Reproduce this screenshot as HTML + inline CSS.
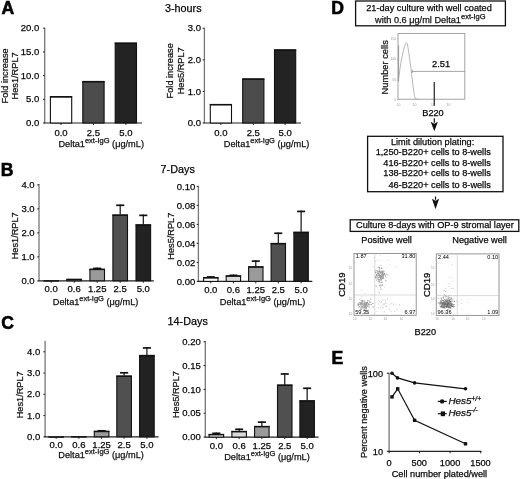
<!DOCTYPE html>
<html><head><meta charset="utf-8"><style>
html,body{margin:0;padding:0;background:#fff;}
body{width:520px;height:479px;overflow:hidden;}
svg{display:block;font-family:"Liberation Sans", sans-serif;filter:grayscale(1);}
.s{stroke:#111;stroke-width:0.25px;}
.b{stroke:#000;stroke-width:0.6px;}
</style></head><body>
<svg width="520" height="479" viewBox="0 0 520 479">
<rect x="0" y="0" width="520" height="479" fill="#fff"/>
<text class="b" x="1.60" y="13.90" font-size="17.6" font-weight="bold" fill="#000">A</text>
<text class="b" x="0.80" y="176.30" font-size="17.6" font-weight="bold" fill="#000">B</text>
<text class="b" x="1.30" y="329.20" font-size="17.6" font-weight="bold" fill="#000">C</text>
<text class="b" x="331.30" y="13.90" font-size="17.6" font-weight="bold" fill="#000">D</text>
<text class="b" x="331.50" y="363.60" font-size="17.6" font-weight="bold" fill="#000">E</text>
<text class="s" x="165.00" y="11.50" font-size="10.8">3-hours</text>
<text class="s" x="160.60" y="172.60" font-size="10.8">7-Days</text>
<text class="s" x="167.60" y="325.00" font-size="10.8">14-Days</text>
<line x1="44.70" y1="27.70" x2="44.70" y2="123.00" stroke="#777" stroke-width="1.3"/>
<line x1="44.10" y1="123.00" x2="142.00" y2="123.00" stroke="#222" stroke-width="1.2"/>
<line x1="43.00" y1="123.00" x2="44.70" y2="123.00" stroke="#222" stroke-width="1.0"/>
<text class="s" x="39.20" y="126.10" font-size="9.5" text-anchor="end">0.0</text>
<line x1="43.00" y1="99.30" x2="44.70" y2="99.30" stroke="#222" stroke-width="1.0"/>
<text class="s" x="39.20" y="102.40" font-size="9.5" text-anchor="end">5.0</text>
<line x1="43.00" y1="75.60" x2="44.70" y2="75.60" stroke="#222" stroke-width="1.0"/>
<text class="s" x="39.20" y="78.70" font-size="9.5" text-anchor="end">10.0</text>
<line x1="43.00" y1="51.90" x2="44.70" y2="51.90" stroke="#222" stroke-width="1.0"/>
<text class="s" x="39.20" y="55.00" font-size="9.5" text-anchor="end">15.0</text>
<line x1="43.00" y1="28.20" x2="44.70" y2="28.20" stroke="#222" stroke-width="1.0"/>
<text class="s" x="39.20" y="31.30" font-size="9.5" text-anchor="end">20.0</text>
<rect x="50.40" y="96.82" width="21.30" height="26.18" fill="#fff" stroke="#111" stroke-width="1.1"/>
<line x1="49.90" y1="96.82" x2="72.20" y2="96.82" stroke="#111" stroke-width="1.5"/>
<line x1="61.05" y1="123.00" x2="61.05" y2="125.00" stroke="#222" stroke-width="1.0"/>
<text class="s" x="61.05" y="136.00" font-size="9.5" text-anchor="middle">0.0</text>
<rect x="82.80" y="81.65" width="21.30" height="41.35" fill="#4c4c4c" stroke="#111" stroke-width="1.1"/>
<line x1="82.30" y1="81.65" x2="104.60" y2="81.65" stroke="#111" stroke-width="1.5"/>
<line x1="93.45" y1="123.00" x2="93.45" y2="125.00" stroke="#222" stroke-width="1.0"/>
<text class="s" x="93.45" y="136.00" font-size="9.5" text-anchor="middle">2.5</text>
<rect x="115.20" y="43.26" width="21.30" height="79.74" fill="#232323" stroke="#111" stroke-width="1.1"/>
<line x1="114.70" y1="43.26" x2="137.00" y2="43.26" stroke="#111" stroke-width="1.5"/>
<line x1="125.85" y1="123.00" x2="125.85" y2="125.00" stroke="#222" stroke-width="1.0"/>
<text class="s" x="125.85" y="136.00" font-size="9.5" text-anchor="middle">5.0</text>
<text class="s" x="58.40" y="147.00" font-size="9.2" fill="#111">Delta1<tspan font-size="7.5" dy="-4.0">ext-IgG</tspan><tspan dy="4.0"> (μg/mL)</tspan></text>
<text class="s" x="0" y="0" font-size="9.2" text-anchor="middle" fill="#111" transform="translate(7.80,75.90) rotate(-90)">Fold increase</text>
<text class="s" x="0" y="0" font-size="9.2" text-anchor="middle" fill="#111" transform="translate(18.40,75.90) rotate(-90)">Hes1/RPL7</text>
<line x1="204.40" y1="27.70" x2="204.40" y2="123.00" stroke="#777" stroke-width="1.3"/>
<line x1="203.80" y1="123.00" x2="301.00" y2="123.00" stroke="#222" stroke-width="1.2"/>
<line x1="202.70" y1="123.00" x2="204.40" y2="123.00" stroke="#222" stroke-width="1.0"/>
<text class="s" x="201.00" y="126.10" font-size="9.5" text-anchor="end">0.0</text>
<line x1="202.70" y1="91.43" x2="204.40" y2="91.43" stroke="#222" stroke-width="1.0"/>
<text class="s" x="201.00" y="94.53" font-size="9.5" text-anchor="end">1.0</text>
<line x1="202.70" y1="59.86" x2="204.40" y2="59.86" stroke="#222" stroke-width="1.0"/>
<text class="s" x="201.00" y="62.96" font-size="9.5" text-anchor="end">2.0</text>
<line x1="202.70" y1="28.29" x2="204.40" y2="28.29" stroke="#222" stroke-width="1.0"/>
<text class="s" x="201.00" y="31.39" font-size="9.5" text-anchor="end">3.0</text>
<rect x="210.30" y="104.66" width="21.20" height="18.34" fill="#fff" stroke="#111" stroke-width="1.1"/>
<line x1="209.80" y1="104.66" x2="232.00" y2="104.66" stroke="#111" stroke-width="1.5"/>
<line x1="220.90" y1="123.00" x2="220.90" y2="125.00" stroke="#222" stroke-width="1.0"/>
<text class="s" x="220.90" y="136.00" font-size="9.5" text-anchor="middle">0.0</text>
<rect x="242.70" y="79.09" width="21.20" height="43.91" fill="#4c4c4c" stroke="#111" stroke-width="1.1"/>
<line x1="242.20" y1="79.09" x2="264.40" y2="79.09" stroke="#111" stroke-width="1.5"/>
<line x1="253.30" y1="123.00" x2="253.30" y2="125.00" stroke="#222" stroke-width="1.0"/>
<text class="s" x="253.30" y="136.00" font-size="9.5" text-anchor="middle">2.5</text>
<rect x="274.50" y="50.04" width="21.20" height="72.96" fill="#232323" stroke="#111" stroke-width="1.1"/>
<line x1="274.00" y1="50.04" x2="296.20" y2="50.04" stroke="#111" stroke-width="1.5"/>
<line x1="285.10" y1="123.00" x2="285.10" y2="125.00" stroke="#222" stroke-width="1.0"/>
<text class="s" x="285.10" y="136.00" font-size="9.5" text-anchor="middle">5.0</text>
<text class="s" x="223.80" y="147.00" font-size="9.2" fill="#111">Delta1<tspan font-size="7.5" dy="-4.0">ext-IgG</tspan><tspan dy="4.0"> (μg/mL)</tspan></text>
<text class="s" x="0" y="0" font-size="9.2" text-anchor="middle" fill="#111" transform="translate(173.10,70.80) rotate(-90)">Fold increase</text>
<text class="s" x="0" y="0" font-size="9.2" text-anchor="middle" fill="#111" transform="translate(183.60,70.80) rotate(-90)">Hes5/RPL7</text>
<line x1="39.00" y1="184.10" x2="39.00" y2="280.80" stroke="#777" stroke-width="1.3"/>
<line x1="38.40" y1="280.80" x2="153.80" y2="280.80" stroke="#222" stroke-width="1.2"/>
<line x1="37.30" y1="280.80" x2="39.00" y2="280.80" stroke="#222" stroke-width="1.0"/>
<text class="s" x="34.60" y="283.90" font-size="9.5" text-anchor="end">0.0</text>
<line x1="37.30" y1="256.80" x2="39.00" y2="256.80" stroke="#222" stroke-width="1.0"/>
<text class="s" x="34.60" y="259.90" font-size="9.5" text-anchor="end">1.0</text>
<line x1="37.30" y1="232.80" x2="39.00" y2="232.80" stroke="#222" stroke-width="1.0"/>
<text class="s" x="34.60" y="235.90" font-size="9.5" text-anchor="end">2.0</text>
<line x1="37.30" y1="208.80" x2="39.00" y2="208.80" stroke="#222" stroke-width="1.0"/>
<text class="s" x="34.60" y="211.90" font-size="9.5" text-anchor="end">3.0</text>
<line x1="37.30" y1="184.80" x2="39.00" y2="184.80" stroke="#222" stroke-width="1.0"/>
<text class="s" x="34.60" y="187.90" font-size="9.5" text-anchor="end">4.0</text>
<rect x="43.90" y="280.92" width="14.60" height="-0.10" fill="#fff" stroke="#111" stroke-width="1.1"/>
<line x1="43.40" y1="280.92" x2="59.00" y2="280.92" stroke="#111" stroke-width="1.5"/>
<line x1="51.20" y1="280.80" x2="51.20" y2="282.80" stroke="#222" stroke-width="1.0"/>
<text class="s" x="51.20" y="292.00" font-size="9.5" text-anchor="middle">0.0</text>
<rect x="66.90" y="279.48" width="14.60" height="1.32" fill="#dadada" stroke="#111" stroke-width="1.1"/>
<line x1="66.40" y1="279.48" x2="82.00" y2="279.48" stroke="#111" stroke-width="1.5"/>
<line x1="74.20" y1="280.80" x2="74.20" y2="282.80" stroke="#222" stroke-width="1.0"/>
<text class="s" x="74.20" y="292.00" font-size="9.5" text-anchor="middle">0.6</text>
<line x1="97.20" y1="267.60" x2="97.20" y2="268.80" stroke="#111" stroke-width="1.2"/>
<line x1="93.14" y1="268.40" x2="101.26" y2="268.40" stroke="#111" stroke-width="1.7"/>
<rect x="89.90" y="269.40" width="14.60" height="11.40" fill="#9a9a9a" stroke="#111" stroke-width="1.1"/>
<line x1="89.40" y1="269.40" x2="105.00" y2="269.40" stroke="#111" stroke-width="1.5"/>
<line x1="97.20" y1="280.80" x2="97.20" y2="282.80" stroke="#222" stroke-width="1.0"/>
<text class="s" x="97.20" y="292.00" font-size="9.5" text-anchor="middle">1.25</text>
<line x1="120.20" y1="204.48" x2="120.20" y2="214.56" stroke="#111" stroke-width="1.2"/>
<line x1="116.14" y1="205.28" x2="124.26" y2="205.28" stroke="#111" stroke-width="1.7"/>
<rect x="112.90" y="215.16" width="14.60" height="65.64" fill="#505050" stroke="#111" stroke-width="1.1"/>
<line x1="112.40" y1="215.16" x2="128.00" y2="215.16" stroke="#111" stroke-width="1.5"/>
<line x1="120.20" y1="280.80" x2="120.20" y2="282.80" stroke="#222" stroke-width="1.0"/>
<text class="s" x="120.20" y="292.00" font-size="9.5" text-anchor="middle">2.5</text>
<line x1="143.30" y1="214.56" x2="143.30" y2="224.40" stroke="#111" stroke-width="1.2"/>
<line x1="139.24" y1="215.36" x2="147.36" y2="215.36" stroke="#111" stroke-width="1.7"/>
<rect x="136.00" y="225.00" width="14.60" height="55.80" fill="#222" stroke="#111" stroke-width="1.1"/>
<line x1="135.50" y1="225.00" x2="151.10" y2="225.00" stroke="#111" stroke-width="1.5"/>
<line x1="143.30" y1="280.80" x2="143.30" y2="282.80" stroke="#222" stroke-width="1.0"/>
<text class="s" x="143.30" y="292.00" font-size="9.5" text-anchor="middle">5.0</text>
<text class="s" x="52.80" y="304.50" font-size="9.2" fill="#111">Delta1<tspan font-size="7.5" dy="-4.0">ext-IgG</tspan><tspan dy="4.0"> (μg/mL)</tspan></text>
<text class="s" x="0" y="0" font-size="9.2" text-anchor="middle" fill="#111" transform="translate(17.60,235.80) rotate(-90)">Hes1/RPL7</text>
<line x1="198.40" y1="185.80" x2="198.40" y2="281.40" stroke="#777" stroke-width="1.3"/>
<line x1="197.80" y1="281.40" x2="312.30" y2="281.40" stroke="#222" stroke-width="1.2"/>
<line x1="196.70" y1="281.40" x2="198.40" y2="281.40" stroke="#222" stroke-width="1.0"/>
<text class="s" x="195.30" y="284.50" font-size="9.5" text-anchor="end">0.00</text>
<line x1="196.70" y1="262.40" x2="198.40" y2="262.40" stroke="#222" stroke-width="1.0"/>
<text class="s" x="195.30" y="265.50" font-size="9.5" text-anchor="end">0.02</text>
<line x1="196.70" y1="243.40" x2="198.40" y2="243.40" stroke="#222" stroke-width="1.0"/>
<text class="s" x="195.30" y="246.50" font-size="9.5" text-anchor="end">0.04</text>
<line x1="196.70" y1="224.40" x2="198.40" y2="224.40" stroke="#222" stroke-width="1.0"/>
<text class="s" x="195.30" y="227.50" font-size="9.5" text-anchor="end">0.06</text>
<line x1="196.70" y1="205.40" x2="198.40" y2="205.40" stroke="#222" stroke-width="1.0"/>
<text class="s" x="195.30" y="208.50" font-size="9.5" text-anchor="end">0.08</text>
<line x1="196.70" y1="186.40" x2="198.40" y2="186.40" stroke="#222" stroke-width="1.0"/>
<text class="s" x="195.30" y="189.50" font-size="9.5" text-anchor="end">0.10</text>
<line x1="210.80" y1="276.17" x2="210.80" y2="277.12" stroke="#111" stroke-width="1.2"/>
<line x1="206.80" y1="276.97" x2="214.80" y2="276.97" stroke="#111" stroke-width="1.7"/>
<rect x="203.60" y="277.73" width="14.40" height="3.67" fill="#fff" stroke="#111" stroke-width="1.1"/>
<line x1="203.10" y1="277.73" x2="218.50" y2="277.73" stroke="#111" stroke-width="1.5"/>
<line x1="210.80" y1="281.40" x2="210.80" y2="283.40" stroke="#222" stroke-width="1.0"/>
<text class="s" x="210.80" y="293.00" font-size="9.5" text-anchor="middle">0.0</text>
<line x1="233.40" y1="274.56" x2="233.40" y2="275.41" stroke="#111" stroke-width="1.2"/>
<line x1="229.40" y1="275.36" x2="237.40" y2="275.36" stroke="#111" stroke-width="1.7"/>
<rect x="226.20" y="276.01" width="14.40" height="5.39" fill="#dadada" stroke="#111" stroke-width="1.1"/>
<line x1="225.70" y1="276.01" x2="241.10" y2="276.01" stroke="#111" stroke-width="1.5"/>
<line x1="233.40" y1="281.40" x2="233.40" y2="283.40" stroke="#222" stroke-width="1.0"/>
<text class="s" x="233.40" y="293.00" font-size="9.5" text-anchor="middle">0.6</text>
<line x1="255.80" y1="260.31" x2="255.80" y2="266.39" stroke="#111" stroke-width="1.2"/>
<line x1="251.80" y1="261.11" x2="259.80" y2="261.11" stroke="#111" stroke-width="1.7"/>
<rect x="248.60" y="266.99" width="14.40" height="14.41" fill="#9a9a9a" stroke="#111" stroke-width="1.1"/>
<line x1="248.10" y1="266.99" x2="263.50" y2="266.99" stroke="#111" stroke-width="1.5"/>
<line x1="255.80" y1="281.40" x2="255.80" y2="283.40" stroke="#222" stroke-width="1.0"/>
<text class="s" x="255.80" y="293.00" font-size="9.5" text-anchor="middle">1.25</text>
<line x1="278.30" y1="232.47" x2="278.30" y2="243.02" stroke="#111" stroke-width="1.2"/>
<line x1="274.30" y1="233.27" x2="282.30" y2="233.27" stroke="#111" stroke-width="1.7"/>
<rect x="271.10" y="243.62" width="14.40" height="37.78" fill="#505050" stroke="#111" stroke-width="1.1"/>
<line x1="270.60" y1="243.62" x2="286.00" y2="243.62" stroke="#111" stroke-width="1.5"/>
<line x1="278.30" y1="281.40" x2="278.30" y2="283.40" stroke="#222" stroke-width="1.0"/>
<text class="s" x="278.30" y="293.00" font-size="9.5" text-anchor="middle">2.5</text>
<line x1="301.10" y1="210.62" x2="301.10" y2="231.81" stroke="#111" stroke-width="1.2"/>
<line x1="297.10" y1="211.43" x2="305.10" y2="211.43" stroke="#111" stroke-width="1.7"/>
<rect x="293.90" y="232.41" width="14.40" height="48.99" fill="#222" stroke="#111" stroke-width="1.1"/>
<line x1="293.40" y1="232.41" x2="308.80" y2="232.41" stroke="#111" stroke-width="1.5"/>
<line x1="301.10" y1="281.40" x2="301.10" y2="283.40" stroke="#222" stroke-width="1.0"/>
<text class="s" x="301.10" y="293.00" font-size="9.5" text-anchor="middle">5.0</text>
<text class="s" x="219.80" y="304.60" font-size="9.2" fill="#111">Delta1<tspan font-size="7.5" dy="-4.0">ext-IgG</tspan><tspan dy="4.0"> (μg/mL)</tspan></text>
<text class="s" x="0" y="0" font-size="9.2" text-anchor="middle" fill="#111" transform="translate(174.00,236.20) rotate(-90)">Hes5/RPL7</text>
<line x1="45.10" y1="340.70" x2="45.10" y2="436.80" stroke="#777" stroke-width="1.3"/>
<line x1="44.50" y1="436.80" x2="158.60" y2="436.80" stroke="#222" stroke-width="1.2"/>
<line x1="43.40" y1="436.80" x2="45.10" y2="436.80" stroke="#222" stroke-width="1.0"/>
<text class="s" x="40.20" y="439.90" font-size="9.5" text-anchor="end">0.0</text>
<line x1="43.40" y1="415.55" x2="45.10" y2="415.55" stroke="#222" stroke-width="1.0"/>
<text class="s" x="40.20" y="418.65" font-size="9.5" text-anchor="end">1.0</text>
<line x1="43.40" y1="394.30" x2="45.10" y2="394.30" stroke="#222" stroke-width="1.0"/>
<text class="s" x="40.20" y="397.40" font-size="9.5" text-anchor="end">2.0</text>
<line x1="43.40" y1="373.05" x2="45.10" y2="373.05" stroke="#222" stroke-width="1.0"/>
<text class="s" x="40.20" y="376.15" font-size="9.5" text-anchor="end">3.0</text>
<line x1="43.40" y1="351.80" x2="45.10" y2="351.80" stroke="#222" stroke-width="1.0"/>
<text class="s" x="40.20" y="354.90" font-size="9.5" text-anchor="end">4.0</text>
<rect x="48.90" y="437.08" width="14.60" height="-0.10" fill="#fff" stroke="#111" stroke-width="1.1"/>
<line x1="48.40" y1="437.08" x2="64.00" y2="437.08" stroke="#111" stroke-width="1.5"/>
<line x1="56.20" y1="436.80" x2="56.20" y2="438.80" stroke="#222" stroke-width="1.0"/>
<text class="s" x="56.20" y="448.00" font-size="9.5" text-anchor="middle">0.0</text>
<rect x="71.60" y="436.87" width="14.60" height="-0.07" fill="#dadada" stroke="#111" stroke-width="1.1"/>
<line x1="71.10" y1="436.87" x2="86.70" y2="436.87" stroke="#111" stroke-width="1.5"/>
<line x1="78.90" y1="436.80" x2="78.90" y2="438.80" stroke="#222" stroke-width="1.0"/>
<text class="s" x="78.90" y="448.00" font-size="9.5" text-anchor="middle">0.6</text>
<line x1="101.60" y1="430.00" x2="101.60" y2="430.85" stroke="#111" stroke-width="1.2"/>
<line x1="97.54" y1="430.80" x2="105.66" y2="430.80" stroke="#111" stroke-width="1.7"/>
<rect x="94.30" y="431.45" width="14.60" height="5.35" fill="#9a9a9a" stroke="#111" stroke-width="1.1"/>
<line x1="93.80" y1="431.45" x2="109.40" y2="431.45" stroke="#111" stroke-width="1.5"/>
<line x1="101.60" y1="436.80" x2="101.60" y2="438.80" stroke="#222" stroke-width="1.0"/>
<text class="s" x="101.60" y="448.00" font-size="9.5" text-anchor="middle">1.25</text>
<line x1="124.10" y1="371.99" x2="124.10" y2="375.60" stroke="#111" stroke-width="1.2"/>
<line x1="120.04" y1="372.79" x2="128.16" y2="372.79" stroke="#111" stroke-width="1.7"/>
<rect x="116.80" y="376.20" width="14.60" height="60.60" fill="#505050" stroke="#111" stroke-width="1.1"/>
<line x1="116.30" y1="376.20" x2="131.90" y2="376.20" stroke="#111" stroke-width="1.5"/>
<line x1="124.10" y1="436.80" x2="124.10" y2="438.80" stroke="#222" stroke-width="1.0"/>
<text class="s" x="124.10" y="448.00" font-size="9.5" text-anchor="middle">2.5</text>
<line x1="146.90" y1="347.12" x2="146.90" y2="354.99" stroke="#111" stroke-width="1.2"/>
<line x1="142.84" y1="347.93" x2="150.96" y2="347.93" stroke="#111" stroke-width="1.7"/>
<rect x="139.60" y="355.59" width="14.60" height="81.21" fill="#222" stroke="#111" stroke-width="1.1"/>
<line x1="139.10" y1="355.59" x2="154.70" y2="355.59" stroke="#111" stroke-width="1.5"/>
<line x1="146.90" y1="436.80" x2="146.90" y2="438.80" stroke="#222" stroke-width="1.0"/>
<text class="s" x="146.90" y="448.00" font-size="9.5" text-anchor="middle">5.0</text>
<text class="s" x="58.30" y="458.30" font-size="9.2" fill="#111">Delta1<tspan font-size="7.5" dy="-4.0">ext-IgG</tspan><tspan dy="4.0"> (μg/mL)</tspan></text>
<text class="s" x="0" y="0" font-size="9.2" text-anchor="middle" fill="#111" transform="translate(23.00,394.80) rotate(-90)">Hes1/RPL7</text>
<line x1="205.30" y1="341.10" x2="205.30" y2="437.10" stroke="#777" stroke-width="1.3"/>
<line x1="204.70" y1="437.10" x2="318.60" y2="437.10" stroke="#222" stroke-width="1.2"/>
<line x1="203.60" y1="437.10" x2="205.30" y2="437.10" stroke="#222" stroke-width="1.0"/>
<text class="s" x="200.80" y="440.20" font-size="9.5" text-anchor="end">0.00</text>
<line x1="203.60" y1="413.25" x2="205.30" y2="413.25" stroke="#222" stroke-width="1.0"/>
<text class="s" x="200.80" y="416.35" font-size="9.5" text-anchor="end">0.05</text>
<line x1="203.60" y1="389.40" x2="205.30" y2="389.40" stroke="#222" stroke-width="1.0"/>
<text class="s" x="200.80" y="392.50" font-size="9.5" text-anchor="end">0.10</text>
<line x1="203.60" y1="365.55" x2="205.30" y2="365.55" stroke="#222" stroke-width="1.0"/>
<text class="s" x="200.80" y="368.65" font-size="9.5" text-anchor="end">0.15</text>
<line x1="203.60" y1="341.70" x2="205.30" y2="341.70" stroke="#222" stroke-width="1.0"/>
<text class="s" x="200.80" y="344.80" font-size="9.5" text-anchor="end">0.20</text>
<line x1="216.35" y1="432.52" x2="216.35" y2="434.00" stroke="#111" stroke-width="1.2"/>
<line x1="212.32" y1="433.32" x2="220.38" y2="433.32" stroke="#111" stroke-width="1.7"/>
<rect x="209.10" y="434.60" width="14.50" height="2.50" fill="#fff" stroke="#111" stroke-width="1.1"/>
<line x1="208.60" y1="434.60" x2="224.10" y2="434.60" stroke="#111" stroke-width="1.5"/>
<line x1="216.35" y1="437.10" x2="216.35" y2="439.10" stroke="#222" stroke-width="1.0"/>
<text class="s" x="216.35" y="449.40" font-size="9.5" text-anchor="middle">0.0</text>
<line x1="239.15" y1="428.51" x2="239.15" y2="430.99" stroke="#111" stroke-width="1.2"/>
<line x1="235.12" y1="429.31" x2="243.18" y2="429.31" stroke="#111" stroke-width="1.7"/>
<rect x="231.90" y="431.59" width="14.50" height="5.51" fill="#dadada" stroke="#111" stroke-width="1.1"/>
<line x1="231.40" y1="431.59" x2="246.90" y2="431.59" stroke="#111" stroke-width="1.5"/>
<line x1="239.15" y1="437.10" x2="239.15" y2="439.10" stroke="#222" stroke-width="1.0"/>
<text class="s" x="239.15" y="449.40" font-size="9.5" text-anchor="middle">0.6</text>
<line x1="261.85" y1="421.36" x2="261.85" y2="425.99" stroke="#111" stroke-width="1.2"/>
<line x1="257.82" y1="422.16" x2="265.88" y2="422.16" stroke="#111" stroke-width="1.7"/>
<rect x="254.60" y="426.59" width="14.50" height="10.51" fill="#9a9a9a" stroke="#111" stroke-width="1.1"/>
<line x1="254.10" y1="426.59" x2="269.60" y2="426.59" stroke="#111" stroke-width="1.5"/>
<line x1="261.85" y1="437.10" x2="261.85" y2="439.10" stroke="#222" stroke-width="1.0"/>
<text class="s" x="261.85" y="449.40" font-size="9.5" text-anchor="middle">1.25</text>
<line x1="284.75" y1="373.18" x2="284.75" y2="384.63" stroke="#111" stroke-width="1.2"/>
<line x1="280.72" y1="373.98" x2="288.78" y2="373.98" stroke="#111" stroke-width="1.7"/>
<rect x="277.50" y="385.23" width="14.50" height="51.87" fill="#505050" stroke="#111" stroke-width="1.1"/>
<line x1="277.00" y1="385.23" x2="292.50" y2="385.23" stroke="#111" stroke-width="1.5"/>
<line x1="284.75" y1="437.10" x2="284.75" y2="439.10" stroke="#222" stroke-width="1.0"/>
<text class="s" x="284.75" y="449.40" font-size="9.5" text-anchor="middle">2.5</text>
<line x1="307.15" y1="387.49" x2="307.15" y2="400.37" stroke="#111" stroke-width="1.2"/>
<line x1="303.12" y1="388.29" x2="311.18" y2="388.29" stroke="#111" stroke-width="1.7"/>
<rect x="299.90" y="400.97" width="14.50" height="36.13" fill="#222" stroke="#111" stroke-width="1.1"/>
<line x1="299.40" y1="400.97" x2="314.90" y2="400.97" stroke="#111" stroke-width="1.5"/>
<line x1="307.15" y1="437.10" x2="307.15" y2="439.10" stroke="#222" stroke-width="1.0"/>
<text class="s" x="307.15" y="449.40" font-size="9.5" text-anchor="middle">5.0</text>
<text class="s" x="224.20" y="460.00" font-size="9.2" fill="#111">Delta1<tspan font-size="7.5" dy="-4.0">ext-IgG</tspan><tspan dy="4.0"> (μg/mL)</tspan></text>
<text class="s" x="0" y="0" font-size="9.2" text-anchor="middle" fill="#111" transform="translate(179.40,394.60) rotate(-90)">Hes5/RPL7</text>
<rect x="355.60" y="1.00" width="149.80" height="24.80" fill="#fff" stroke="#111" stroke-width="1.3"/>
<text class="s" x="429.00" y="10.50" font-size="9.2" text-anchor="middle">21-day culture with well coated</text>
<text class="s" x="375.0" y="22.6" font-size="9.2" fill="#111">with 0.6 μg/ml Delta1<tspan font-size="7.5" dy="-4.0">ext-IgG</tspan></text>
<rect x="398.00" y="33.40" width="66.80" height="65.80" fill="none" stroke="#999" stroke-width="0.9"/>
<text class="s" x="0" y="0" font-size="9.3" text-anchor="middle" fill="#111" transform="translate(387.60,67.30) rotate(-90)">Number cells</text>
<text x="396.00" y="39.70" font-size="3.2" text-anchor="end" fill="#999">150</text>
<line x1="397.00" y1="38.50" x2="398.00" y2="38.50" stroke="#999" stroke-width="0.6"/>
<text x="396.00" y="60.20" font-size="3.2" text-anchor="end" fill="#999">100</text>
<line x1="397.00" y1="59.00" x2="398.00" y2="59.00" stroke="#999" stroke-width="0.6"/>
<text x="396.00" y="81.20" font-size="3.2" text-anchor="end" fill="#999">50</text>
<line x1="397.00" y1="80.00" x2="398.00" y2="80.00" stroke="#999" stroke-width="0.6"/>
<text x="396.00" y="101.00" font-size="3.2" text-anchor="end" fill="#999">0</text>
<line x1="397.00" y1="99.80" x2="398.00" y2="99.80" stroke="#999" stroke-width="0.6"/>
<text x="398.50" y="105.50" font-size="3.4" text-anchor="middle" fill="#999">10</text>
<text x="414.60" y="105.50" font-size="3.4" text-anchor="middle" fill="#999">10</text>
<text x="433.00" y="105.50" font-size="3.4" text-anchor="middle" fill="#999">10</text>
<text x="448.50" y="105.50" font-size="3.4" text-anchor="middle" fill="#999">10</text>
<polyline points="398.5,79 401,62 403.5,50 405.4,44 406.4,42.6 407.4,44 409,54 411,69 413,86 414.5,96 415.5,99.2 419,99.2" fill="none" stroke="#b0b0b0" stroke-width="0.9"/>
<line x1="398.60" y1="45.20" x2="398.60" y2="81.50" stroke="#999" stroke-width="1.0"/>
<line x1="412.00" y1="71.40" x2="464.80" y2="71.40" stroke="#8c8c8c" stroke-width="0.8"/>
<line x1="412.20" y1="69.80" x2="412.20" y2="73.00" stroke="#8c8c8c" stroke-width="0.8"/>
<text class="s" x="432.00" y="66.80" font-size="9.4">2.51</text>
<line x1="434.30" y1="82.00" x2="434.30" y2="105.80" stroke="#333" stroke-width="1.3"/>
<text class="s" x="433.00" y="115.60" font-size="9.2" text-anchor="middle">B220</text>
<line x1="434.30" y1="118.30" x2="434.30" y2="122.80" stroke="#111" stroke-width="1.2"/>
<polygon points="430.70,121.80 434.30,123.80 437.90,121.80 434.30,131.30" fill="#111"/>
<rect x="367.60" y="136.30" width="135.40" height="55.40" fill="none" stroke="#111" stroke-width="1.3"/>
<text class="s" x="432.60" y="144.60" font-size="9.2" text-anchor="middle">Limit dilution plating:</text>
<text class="s" x="490.80" y="155.00" font-size="9.2" text-anchor="end">1,250-B220+ cells to 8-wells</text>
<text class="s" x="490.80" y="165.50" font-size="9.2" text-anchor="end">416-B220+ cells to 8-wells</text>
<text class="s" x="490.80" y="175.80" font-size="9.2" text-anchor="end">138-B220+ cells to 8-wells</text>
<text class="s" x="490.80" y="187.60" font-size="9.2" text-anchor="end">46-B220+ cells to 8-wells</text>
<line x1="435.50" y1="196.50" x2="435.50" y2="199.80" stroke="#111" stroke-width="1.2"/>
<polygon points="431.90,198.80 435.50,200.80 439.10,198.80 435.50,209.20" fill="#111"/>
<rect x="350.20" y="219.80" width="168.60" height="11.60" fill="none" stroke="#111" stroke-width="1.3"/>
<text class="s" x="434.90" y="228.10" font-size="9.2" text-anchor="middle">Culture 8-days with OP-9 stromal layer</text>
<text class="s" x="386.60" y="243.10" font-size="9.2" text-anchor="middle">Positive well</text>
<text class="s" x="479.60" y="242.90" font-size="9.2" text-anchor="middle">Negative well</text>
<rect x="354.00" y="253.50" width="62.20" height="61.80" fill="none" stroke="#8a8a8a" stroke-width="0.9"/>
<line x1="374.80" y1="253.50" x2="374.80" y2="315.30" stroke="#c8c8c8" stroke-width="0.7"/>
<line x1="354.00" y1="295.00" x2="416.20" y2="295.00" stroke="#c8c8c8" stroke-width="0.7"/>
<circle cx="377.1" cy="276.2" r="0.6" fill="#9a9a9a"/>
<circle cx="382.4" cy="273.4" r="0.6" fill="#9a9a9a"/>
<circle cx="376.8" cy="274.8" r="0.6" fill="#9a9a9a"/>
<circle cx="381.1" cy="278.5" r="0.6" fill="#9a9a9a"/>
<circle cx="377.1" cy="270.9" r="0.6" fill="#9a9a9a"/>
<circle cx="381.7" cy="276.5" r="0.6" fill="#9a9a9a"/>
<circle cx="383.7" cy="278.1" r="0.6" fill="#9a9a9a"/>
<circle cx="379.8" cy="274.1" r="0.6" fill="#9a9a9a"/>
<circle cx="386.2" cy="274.1" r="0.6" fill="#9a9a9a"/>
<circle cx="378.1" cy="271.4" r="0.6" fill="#9a9a9a"/>
<circle cx="380.2" cy="275.5" r="0.6" fill="#9a9a9a"/>
<circle cx="379.2" cy="274.8" r="0.6" fill="#9a9a9a"/>
<circle cx="380.7" cy="277.2" r="0.6" fill="#9a9a9a"/>
<circle cx="382.6" cy="275.7" r="0.6" fill="#9a9a9a"/>
<circle cx="375.7" cy="277.2" r="0.6" fill="#9a9a9a"/>
<circle cx="376.6" cy="274.5" r="0.6" fill="#9a9a9a"/>
<circle cx="376.5" cy="275.0" r="0.6" fill="#9a9a9a"/>
<circle cx="378.1" cy="275.7" r="0.6" fill="#9a9a9a"/>
<circle cx="387.9" cy="274.8" r="0.6" fill="#9a9a9a"/>
<circle cx="382.0" cy="270.8" r="0.6" fill="#9a9a9a"/>
<circle cx="379.3" cy="277.1" r="0.6" fill="#9a9a9a"/>
<circle cx="379.8" cy="276.2" r="0.6" fill="#9a9a9a"/>
<circle cx="380.2" cy="271.8" r="0.6" fill="#9a9a9a"/>
<circle cx="381.4" cy="272.4" r="0.6" fill="#9a9a9a"/>
<circle cx="384.5" cy="273.4" r="0.6" fill="#9a9a9a"/>
<circle cx="381.6" cy="275.0" r="0.6" fill="#9a9a9a"/>
<circle cx="382.3" cy="273.1" r="0.6" fill="#9a9a9a"/>
<circle cx="382.4" cy="274.6" r="0.6" fill="#9a9a9a"/>
<circle cx="383.0" cy="277.0" r="0.6" fill="#9a9a9a"/>
<circle cx="380.3" cy="272.5" r="0.6" fill="#9a9a9a"/>
<circle cx="381.8" cy="276.5" r="0.6" fill="#9a9a9a"/>
<circle cx="383.9" cy="273.8" r="0.6" fill="#9a9a9a"/>
<circle cx="381.3" cy="276.6" r="0.6" fill="#9a9a9a"/>
<circle cx="380.7" cy="275.7" r="0.6" fill="#9a9a9a"/>
<circle cx="380.4" cy="273.1" r="0.6" fill="#9a9a9a"/>
<circle cx="377.6" cy="273.7" r="0.6" fill="#9a9a9a"/>
<circle cx="381.4" cy="279.8" r="0.6" fill="#9a9a9a"/>
<circle cx="382.3" cy="278.4" r="0.6" fill="#9a9a9a"/>
<circle cx="381.9" cy="277.2" r="0.6" fill="#9a9a9a"/>
<circle cx="380.4" cy="277.5" r="0.6" fill="#9a9a9a"/>
<circle cx="384.3" cy="274.0" r="0.6" fill="#9a9a9a"/>
<circle cx="378.3" cy="281.3" r="0.6" fill="#9a9a9a"/>
<circle cx="380.6" cy="278.1" r="0.6" fill="#9a9a9a"/>
<circle cx="382.1" cy="271.4" r="0.6" fill="#9a9a9a"/>
<circle cx="385.8" cy="280.7" r="0.6" fill="#9a9a9a"/>
<circle cx="380.4" cy="277.4" r="0.6" fill="#9a9a9a"/>
<circle cx="380.3" cy="272.2" r="0.6" fill="#9a9a9a"/>
<circle cx="379.7" cy="276.2" r="0.6" fill="#9a9a9a"/>
<circle cx="382.7" cy="277.3" r="0.6" fill="#9a9a9a"/>
<circle cx="380.1" cy="279.3" r="0.6" fill="#9a9a9a"/>
<circle cx="378.2" cy="277.5" r="0.6" fill="#9a9a9a"/>
<circle cx="382.7" cy="274.1" r="0.6" fill="#9a9a9a"/>
<circle cx="375.7" cy="272.1" r="0.6" fill="#9a9a9a"/>
<circle cx="380.6" cy="276.7" r="0.6" fill="#9a9a9a"/>
<circle cx="383.7" cy="271.8" r="0.6" fill="#9a9a9a"/>
<circle cx="380.0" cy="277.1" r="0.6" fill="#9a9a9a"/>
<circle cx="379.6" cy="267.4" r="0.6" fill="#9a9a9a"/>
<circle cx="381.9" cy="282.4" r="0.6" fill="#9a9a9a"/>
<circle cx="382.4" cy="272.1" r="0.6" fill="#9a9a9a"/>
<circle cx="379.0" cy="275.7" r="0.6" fill="#9a9a9a"/>
<circle cx="386.0" cy="277.0" r="0.6" fill="#9a9a9a"/>
<circle cx="380.3" cy="280.0" r="0.6" fill="#9a9a9a"/>
<circle cx="379.8" cy="281.0" r="0.6" fill="#9a9a9a"/>
<circle cx="378.4" cy="273.5" r="0.6" fill="#9a9a9a"/>
<circle cx="381.7" cy="279.6" r="0.6" fill="#9a9a9a"/>
<circle cx="381.6" cy="276.0" r="0.6" fill="#9a9a9a"/>
<circle cx="375.6" cy="272.7" r="0.6" fill="#9a9a9a"/>
<circle cx="378.5" cy="273.3" r="0.6" fill="#9a9a9a"/>
<circle cx="381.4" cy="273.9" r="0.6" fill="#9a9a9a"/>
<circle cx="381.9" cy="275.3" r="0.6" fill="#9a9a9a"/>
<circle cx="379.2" cy="275.4" r="0.6" fill="#9a9a9a"/>
<circle cx="381.0" cy="277.7" r="0.6" fill="#9a9a9a"/>
<circle cx="378.9" cy="274.3" r="0.6" fill="#9a9a9a"/>
<circle cx="376.7" cy="280.1" r="0.6" fill="#9a9a9a"/>
<circle cx="383.5" cy="274.4" r="0.6" fill="#9a9a9a"/>
<circle cx="378.9" cy="271.0" r="0.6" fill="#9a9a9a"/>
<circle cx="380.4" cy="275.7" r="0.6" fill="#9a9a9a"/>
<circle cx="385.2" cy="275.8" r="0.6" fill="#9a9a9a"/>
<circle cx="378.1" cy="267.2" r="0.6" fill="#9a9a9a"/>
<circle cx="383.4" cy="275.6" r="0.6" fill="#9a9a9a"/>
<circle cx="376.1" cy="275.6" r="0.6" fill="#9a9a9a"/>
<circle cx="376.1" cy="286.1" r="0.6" fill="#9a9a9a"/>
<circle cx="382.7" cy="276.8" r="0.6" fill="#9a9a9a"/>
<circle cx="379.6" cy="268.2" r="0.6" fill="#9a9a9a"/>
<circle cx="379.7" cy="270.0" r="0.6" fill="#9a9a9a"/>
<circle cx="381.4" cy="268.2" r="0.6" fill="#9a9a9a"/>
<circle cx="377.8" cy="278.9" r="0.6" fill="#9a9a9a"/>
<circle cx="383.9" cy="271.2" r="0.6" fill="#9a9a9a"/>
<circle cx="376.3" cy="277.8" r="0.6" fill="#9a9a9a"/>
<circle cx="382.0" cy="271.8" r="0.6" fill="#9a9a9a"/>
<circle cx="378.3" cy="272.8" r="0.6" fill="#9a9a9a"/>
<circle cx="377.1" cy="272.8" r="0.6" fill="#9a9a9a"/>
<circle cx="383.0" cy="277.2" r="0.6" fill="#9a9a9a"/>
<circle cx="384.9" cy="274.7" r="0.6" fill="#9a9a9a"/>
<circle cx="379.7" cy="271.9" r="0.6" fill="#9a9a9a"/>
<circle cx="379.7" cy="270.8" r="0.6" fill="#9a9a9a"/>
<circle cx="375.7" cy="277.2" r="0.6" fill="#9a9a9a"/>
<circle cx="383.5" cy="277.7" r="0.6" fill="#9a9a9a"/>
<circle cx="383.2" cy="275.8" r="0.6" fill="#9a9a9a"/>
<circle cx="378.3" cy="275.3" r="0.6" fill="#9a9a9a"/>
<circle cx="379.1" cy="271.4" r="0.6" fill="#9a9a9a"/>
<circle cx="375.9" cy="270.3" r="0.6" fill="#9a9a9a"/>
<circle cx="380.0" cy="275.5" r="0.6" fill="#9a9a9a"/>
<circle cx="378.9" cy="279.6" r="0.6" fill="#9a9a9a"/>
<circle cx="380.4" cy="276.9" r="0.6" fill="#9a9a9a"/>
<circle cx="382.9" cy="272.4" r="0.6" fill="#9a9a9a"/>
<circle cx="375.3" cy="277.4" r="0.6" fill="#9a9a9a"/>
<circle cx="378.3" cy="279.2" r="0.6" fill="#9a9a9a"/>
<circle cx="380.8" cy="278.2" r="0.6" fill="#9a9a9a"/>
<circle cx="381.8" cy="268.3" r="0.6" fill="#9a9a9a"/>
<circle cx="381.8" cy="282.0" r="0.5" fill="#aaa"/>
<circle cx="379.1" cy="283.0" r="0.5" fill="#aaa"/>
<circle cx="381.9" cy="289.0" r="0.5" fill="#aaa"/>
<circle cx="382.3" cy="277.5" r="0.5" fill="#aaa"/>
<circle cx="379.4" cy="274.3" r="0.5" fill="#aaa"/>
<circle cx="380.3" cy="287.7" r="0.5" fill="#aaa"/>
<circle cx="379.1" cy="286.1" r="0.5" fill="#aaa"/>
<circle cx="380.9" cy="289.5" r="0.5" fill="#aaa"/>
<circle cx="379.0" cy="281.3" r="0.5" fill="#aaa"/>
<circle cx="379.1" cy="292.9" r="0.5" fill="#aaa"/>
<circle cx="382.5" cy="284.4" r="0.5" fill="#aaa"/>
<circle cx="380.9" cy="285.5" r="0.5" fill="#aaa"/>
<circle cx="380.9" cy="284.1" r="0.5" fill="#aaa"/>
<circle cx="379.9" cy="279.3" r="0.5" fill="#aaa"/>
<circle cx="379.3" cy="292.4" r="0.5" fill="#aaa"/>
<circle cx="381.5" cy="285.3" r="0.5" fill="#aaa"/>
<circle cx="380.1" cy="285.3" r="0.5" fill="#aaa"/>
<circle cx="381.1" cy="282.1" r="0.5" fill="#aaa"/>
<circle cx="380.9" cy="286.1" r="0.5" fill="#aaa"/>
<circle cx="379.2" cy="281.4" r="0.5" fill="#aaa"/>
<circle cx="378.7" cy="280.2" r="0.5" fill="#aaa"/>
<circle cx="382.1" cy="274.4" r="0.5" fill="#aaa"/>
<circle cx="380.0" cy="282.2" r="0.5" fill="#aaa"/>
<circle cx="379.4" cy="285.4" r="0.5" fill="#aaa"/>
<circle cx="382.5" cy="285.3" r="0.5" fill="#aaa"/>
<circle cx="381.3" cy="265.1" r="0.5" fill="#ccc"/>
<circle cx="381.4" cy="277.3" r="0.5" fill="#ccc"/>
<circle cx="380.0" cy="260.8" r="0.5" fill="#ccc"/>
<circle cx="375.7" cy="261.1" r="0.5" fill="#ccc"/>
<circle cx="375.1" cy="278.8" r="0.5" fill="#ccc"/>
<circle cx="383.8" cy="268.1" r="0.5" fill="#ccc"/>
<circle cx="389.3" cy="264.7" r="0.5" fill="#ccc"/>
<circle cx="385.8" cy="276.4" r="0.5" fill="#ccc"/>
<circle cx="374.3" cy="257.5" r="0.5" fill="#ccc"/>
<circle cx="377.4" cy="277.3" r="0.5" fill="#ccc"/>
<circle cx="388.5" cy="260.2" r="0.5" fill="#ccc"/>
<circle cx="387.2" cy="266.9" r="0.5" fill="#ccc"/>
<circle cx="380.0" cy="265.6" r="0.5" fill="#ccc"/>
<circle cx="380.4" cy="255.5" r="0.5" fill="#ccc"/>
<circle cx="377.0" cy="260.1" r="0.5" fill="#ccc"/>
<circle cx="384.5" cy="286.7" r="0.5" fill="#ccc"/>
<circle cx="395.7" cy="267.3" r="0.5" fill="#ccc"/>
<circle cx="373.4" cy="266.7" r="0.5" fill="#ccc"/>
<circle cx="360.9" cy="309.2" r="0.6" fill="#9a9a9a"/>
<circle cx="366.7" cy="303.2" r="0.6" fill="#9a9a9a"/>
<circle cx="368.1" cy="306.0" r="0.6" fill="#9a9a9a"/>
<circle cx="358.3" cy="303.6" r="0.6" fill="#9a9a9a"/>
<circle cx="363.6" cy="304.8" r="0.6" fill="#9a9a9a"/>
<circle cx="365.0" cy="304.1" r="0.6" fill="#9a9a9a"/>
<circle cx="365.2" cy="303.5" r="0.6" fill="#9a9a9a"/>
<circle cx="361.1" cy="308.1" r="0.6" fill="#9a9a9a"/>
<circle cx="365.9" cy="305.8" r="0.6" fill="#9a9a9a"/>
<circle cx="358.4" cy="304.4" r="0.6" fill="#9a9a9a"/>
<circle cx="367.6" cy="302.0" r="0.6" fill="#9a9a9a"/>
<circle cx="368.7" cy="303.9" r="0.6" fill="#9a9a9a"/>
<circle cx="366.0" cy="304.5" r="0.6" fill="#9a9a9a"/>
<circle cx="365.3" cy="307.4" r="0.6" fill="#9a9a9a"/>
<circle cx="363.0" cy="308.2" r="0.6" fill="#9a9a9a"/>
<circle cx="361.5" cy="302.8" r="0.6" fill="#9a9a9a"/>
<circle cx="367.2" cy="302.5" r="0.6" fill="#9a9a9a"/>
<circle cx="363.1" cy="306.8" r="0.6" fill="#9a9a9a"/>
<circle cx="369.1" cy="300.9" r="0.6" fill="#9a9a9a"/>
<circle cx="366.4" cy="308.9" r="0.6" fill="#9a9a9a"/>
<circle cx="369.0" cy="304.3" r="0.6" fill="#9a9a9a"/>
<circle cx="362.2" cy="304.1" r="0.6" fill="#9a9a9a"/>
<circle cx="360.1" cy="304.2" r="0.6" fill="#9a9a9a"/>
<circle cx="363.8" cy="304.5" r="0.6" fill="#9a9a9a"/>
<circle cx="369.0" cy="304.3" r="0.6" fill="#9a9a9a"/>
<circle cx="359.0" cy="307.1" r="0.6" fill="#9a9a9a"/>
<circle cx="360.4" cy="303.8" r="0.6" fill="#9a9a9a"/>
<circle cx="364.0" cy="304.0" r="0.6" fill="#9a9a9a"/>
<circle cx="360.7" cy="304.3" r="0.6" fill="#9a9a9a"/>
<circle cx="372.8" cy="303.5" r="0.6" fill="#9a9a9a"/>
<circle cx="364.0" cy="307.3" r="0.6" fill="#9a9a9a"/>
<circle cx="367.3" cy="306.5" r="0.6" fill="#9a9a9a"/>
<circle cx="367.8" cy="300.5" r="0.6" fill="#9a9a9a"/>
<circle cx="361.2" cy="305.1" r="0.6" fill="#9a9a9a"/>
<circle cx="366.4" cy="307.6" r="0.6" fill="#9a9a9a"/>
<circle cx="366.3" cy="304.3" r="0.6" fill="#9a9a9a"/>
<circle cx="364.6" cy="304.3" r="0.6" fill="#9a9a9a"/>
<circle cx="365.4" cy="306.3" r="0.6" fill="#9a9a9a"/>
<circle cx="363.2" cy="303.0" r="0.6" fill="#9a9a9a"/>
<circle cx="361.3" cy="307.2" r="0.6" fill="#9a9a9a"/>
<circle cx="369.4" cy="307.0" r="0.6" fill="#9a9a9a"/>
<circle cx="367.8" cy="306.6" r="0.6" fill="#9a9a9a"/>
<circle cx="364.5" cy="306.3" r="0.6" fill="#9a9a9a"/>
<circle cx="360.5" cy="304.4" r="0.6" fill="#9a9a9a"/>
<circle cx="361.7" cy="306.4" r="0.6" fill="#9a9a9a"/>
<circle cx="362.3" cy="304.6" r="0.6" fill="#9a9a9a"/>
<circle cx="366.0" cy="307.8" r="0.6" fill="#9a9a9a"/>
<circle cx="361.5" cy="302.7" r="0.6" fill="#9a9a9a"/>
<circle cx="367.6" cy="302.4" r="0.6" fill="#9a9a9a"/>
<circle cx="366.2" cy="303.5" r="0.6" fill="#9a9a9a"/>
<circle cx="364.1" cy="300.8" r="0.6" fill="#9a9a9a"/>
<circle cx="367.2" cy="303.7" r="0.6" fill="#9a9a9a"/>
<circle cx="361.1" cy="309.4" r="0.6" fill="#9a9a9a"/>
<circle cx="367.2" cy="312.5" r="0.6" fill="#9a9a9a"/>
<circle cx="366.0" cy="304.0" r="0.6" fill="#9a9a9a"/>
<circle cx="364.9" cy="308.3" r="0.6" fill="#9a9a9a"/>
<circle cx="364.4" cy="305.8" r="0.6" fill="#9a9a9a"/>
<circle cx="366.5" cy="302.8" r="0.6" fill="#9a9a9a"/>
<circle cx="365.0" cy="303.7" r="0.6" fill="#9a9a9a"/>
<circle cx="359.8" cy="306.7" r="0.6" fill="#9a9a9a"/>
<circle cx="367.0" cy="305.0" r="0.6" fill="#9a9a9a"/>
<circle cx="361.1" cy="300.4" r="0.6" fill="#9a9a9a"/>
<circle cx="366.3" cy="304.6" r="0.6" fill="#9a9a9a"/>
<circle cx="358.1" cy="304.7" r="0.6" fill="#9a9a9a"/>
<circle cx="358.7" cy="304.7" r="0.6" fill="#9a9a9a"/>
<circle cx="365.0" cy="305.6" r="0.6" fill="#9a9a9a"/>
<circle cx="365.3" cy="305.2" r="0.6" fill="#9a9a9a"/>
<circle cx="360.2" cy="304.0" r="0.6" fill="#9a9a9a"/>
<circle cx="362.6" cy="304.3" r="0.6" fill="#9a9a9a"/>
<circle cx="365.5" cy="306.2" r="0.6" fill="#9a9a9a"/>
<circle cx="370.7" cy="299.1" r="0.6" fill="#9a9a9a"/>
<circle cx="366.0" cy="304.4" r="0.6" fill="#9a9a9a"/>
<circle cx="373.1" cy="306.9" r="0.6" fill="#9a9a9a"/>
<circle cx="358.2" cy="305.7" r="0.6" fill="#9a9a9a"/>
<circle cx="362.5" cy="307.0" r="0.6" fill="#9a9a9a"/>
<circle cx="360.5" cy="304.6" r="0.6" fill="#9a9a9a"/>
<circle cx="364.0" cy="304.6" r="0.6" fill="#9a9a9a"/>
<circle cx="362.3" cy="300.8" r="0.6" fill="#9a9a9a"/>
<circle cx="366.2" cy="307.0" r="0.6" fill="#9a9a9a"/>
<circle cx="364.2" cy="302.6" r="0.6" fill="#9a9a9a"/>
<circle cx="365.3" cy="306.0" r="0.6" fill="#9a9a9a"/>
<circle cx="363.8" cy="304.8" r="0.6" fill="#9a9a9a"/>
<circle cx="369.9" cy="302.3" r="0.6" fill="#9a9a9a"/>
<circle cx="362.4" cy="300.6" r="0.6" fill="#9a9a9a"/>
<circle cx="361.8" cy="303.2" r="0.6" fill="#9a9a9a"/>
<circle cx="360.9" cy="303.3" r="0.6" fill="#9a9a9a"/>
<circle cx="371.3" cy="304.4" r="0.6" fill="#9a9a9a"/>
<circle cx="364.1" cy="309.6" r="0.6" fill="#9a9a9a"/>
<circle cx="364.3" cy="301.0" r="0.6" fill="#9a9a9a"/>
<circle cx="366.0" cy="302.7" r="0.6" fill="#9a9a9a"/>
<circle cx="370.7" cy="302.1" r="0.6" fill="#9a9a9a"/>
<circle cx="362.3" cy="301.3" r="0.6" fill="#9a9a9a"/>
<circle cx="364.9" cy="302.6" r="0.6" fill="#9a9a9a"/>
<circle cx="364.3" cy="304.0" r="0.6" fill="#9a9a9a"/>
<circle cx="362.2" cy="306.9" r="0.6" fill="#9a9a9a"/>
<circle cx="368.1" cy="304.9" r="0.6" fill="#9a9a9a"/>
<circle cx="361.1" cy="302.4" r="0.6" fill="#9a9a9a"/>
<circle cx="365.5" cy="310.1" r="0.6" fill="#9a9a9a"/>
<circle cx="362.8" cy="303.1" r="0.6" fill="#9a9a9a"/>
<circle cx="361.8" cy="302.4" r="0.6" fill="#9a9a9a"/>
<circle cx="360.8" cy="304.3" r="0.6" fill="#9a9a9a"/>
<circle cx="369.9" cy="304.8" r="0.6" fill="#9a9a9a"/>
<circle cx="362.6" cy="301.2" r="0.6" fill="#9a9a9a"/>
<circle cx="365.3" cy="304.7" r="0.6" fill="#9a9a9a"/>
<circle cx="359.8" cy="302.4" r="0.6" fill="#9a9a9a"/>
<circle cx="364.3" cy="307.0" r="0.6" fill="#9a9a9a"/>
<circle cx="366.9" cy="305.3" r="0.6" fill="#9a9a9a"/>
<circle cx="363.3" cy="305.5" r="0.6" fill="#9a9a9a"/>
<circle cx="364.5" cy="309.6" r="0.6" fill="#9a9a9a"/>
<circle cx="360.2" cy="304.0" r="0.6" fill="#9a9a9a"/>
<circle cx="393.0" cy="303.8" r="0.5" fill="#c4c4c4"/>
<circle cx="393.8" cy="304.8" r="0.5" fill="#c4c4c4"/>
<circle cx="386.8" cy="303.3" r="0.5" fill="#c4c4c4"/>
<circle cx="378.4" cy="300.6" r="0.5" fill="#c4c4c4"/>
<circle cx="398.2" cy="307.9" r="0.5" fill="#c4c4c4"/>
<circle cx="389.3" cy="309.3" r="0.5" fill="#c4c4c4"/>
<circle cx="389.1" cy="309.6" r="0.5" fill="#c4c4c4"/>
<circle cx="384.5" cy="304.0" r="0.5" fill="#c4c4c4"/>
<circle cx="391.4" cy="303.4" r="0.5" fill="#c4c4c4"/>
<circle cx="378.7" cy="304.0" r="0.5" fill="#c4c4c4"/>
<circle cx="383.0" cy="307.8" r="0.5" fill="#c4c4c4"/>
<circle cx="382.0" cy="300.2" r="0.5" fill="#c4c4c4"/>
<circle cx="384.2" cy="312.0" r="0.5" fill="#c4c4c4"/>
<circle cx="385.7" cy="305.7" r="0.5" fill="#c4c4c4"/>
<circle cx="386.1" cy="306.3" r="0.5" fill="#c4c4c4"/>
<circle cx="391.1" cy="311.3" r="0.5" fill="#c4c4c4"/>
<circle cx="377.0" cy="311.1" r="0.5" fill="#c4c4c4"/>
<circle cx="386.0" cy="303.6" r="0.5" fill="#c4c4c4"/>
<circle cx="399.2" cy="304.2" r="0.5" fill="#c4c4c4"/>
<circle cx="396.7" cy="309.4" r="0.5" fill="#c4c4c4"/>
<circle cx="380.3" cy="307.2" r="0.5" fill="#c4c4c4"/>
<circle cx="390.1" cy="304.4" r="0.5" fill="#c4c4c4"/>
<circle cx="373.2" cy="303.5" r="0.5" fill="#c4c4c4"/>
<circle cx="384.9" cy="300.0" r="0.5" fill="#c4c4c4"/>
<circle cx="396.0" cy="303.9" r="0.5" fill="#c4c4c4"/>
<circle cx="383.8" cy="303.7" r="0.5" fill="#c4c4c4"/>
<circle cx="381.7" cy="301.5" r="0.5" fill="#c4c4c4"/>
<circle cx="386.5" cy="306.4" r="0.5" fill="#c4c4c4"/>
<circle cx="383.2" cy="304.6" r="0.5" fill="#c4c4c4"/>
<circle cx="378.4" cy="307.3" r="0.5" fill="#c4c4c4"/>
<circle cx="381.9" cy="306.0" r="0.5" fill="#c4c4c4"/>
<circle cx="381.0" cy="302.7" r="0.5" fill="#c4c4c4"/>
<circle cx="387.2" cy="299.5" r="0.5" fill="#c4c4c4"/>
<circle cx="399.6" cy="304.8" r="0.5" fill="#c4c4c4"/>
<circle cx="385.6" cy="301.7" r="0.5" fill="#c4c4c4"/>
<circle cx="394.8" cy="311.2" r="0.5" fill="#c4c4c4"/>
<circle cx="387.6" cy="298.8" r="0.5" fill="#c4c4c4"/>
<circle cx="383.2" cy="307.8" r="0.5" fill="#c4c4c4"/>
<circle cx="383.2" cy="299.7" r="0.5" fill="#c4c4c4"/>
<circle cx="379.5" cy="301.5" r="0.5" fill="#c4c4c4"/>
<circle cx="362.1" cy="296.8" r="0.5" fill="#ccc"/>
<circle cx="362.1" cy="314.0" r="0.5" fill="#ccc"/>
<circle cx="372.6" cy="294.8" r="0.5" fill="#ccc"/>
<circle cx="364.1" cy="300.4" r="0.5" fill="#ccc"/>
<circle cx="361.2" cy="305.2" r="0.5" fill="#ccc"/>
<circle cx="360.0" cy="298.4" r="0.5" fill="#ccc"/>
<circle cx="359.8" cy="299.5" r="0.5" fill="#ccc"/>
<circle cx="369.7" cy="303.9" r="0.5" fill="#ccc"/>
<circle cx="357.2" cy="304.1" r="0.5" fill="#ccc"/>
<circle cx="363.3" cy="304.4" r="0.5" fill="#ccc"/>
<circle cx="361.6" cy="290.5" r="0.5" fill="#ccc"/>
<circle cx="364.7" cy="301.1" r="0.5" fill="#ccc"/>
<circle cx="365.0" cy="293.5" r="0.5" fill="#ccc"/>
<text x="355.80" y="258.10" font-size="5.6">1.87</text>
<text x="415.40" y="258.10" font-size="5.6" text-anchor="end">31.80</text>
<text x="355.20" y="314.30" font-size="5.6">59.35</text>
<text x="415.40" y="314.30" font-size="5.6" text-anchor="end">6.97</text>
<text x="354.80" y="319.50" font-size="3.2" text-anchor="middle" fill="#999">10</text>
<text x="370.60" y="319.50" font-size="3.2" text-anchor="middle" fill="#999">10</text>
<text x="385.30" y="319.50" font-size="3.2" text-anchor="middle" fill="#999">10</text>
<text x="401.40" y="319.50" font-size="3.2" text-anchor="middle" fill="#999">10</text>
<text x="350.50" y="268.80" font-size="3.2" text-anchor="middle" fill="#999">10</text>
<text x="350.50" y="285.30" font-size="3.2" text-anchor="middle" fill="#999">10</text>
<text x="350.50" y="299.60" font-size="3.2" text-anchor="middle" fill="#999">10</text>
<text x="350.50" y="314.90" font-size="3.2" text-anchor="middle" fill="#999">10</text>
<text class="s" x="0" y="0" font-size="9.6" text-anchor="middle" fill="#000" transform="translate(345.20,284.60) rotate(-90)">CD19</text>
<rect x="436.30" y="253.90" width="62.70" height="61.50" fill="none" stroke="#8a8a8a" stroke-width="0.9"/>
<line x1="457.30" y1="253.90" x2="457.30" y2="315.40" stroke="#c8c8c8" stroke-width="0.7"/>
<line x1="436.30" y1="295.60" x2="499.00" y2="295.60" stroke="#c8c8c8" stroke-width="0.7"/>
<circle cx="445.9" cy="305.2" r="0.6" fill="#6a6a6a"/>
<circle cx="446.0" cy="303.3" r="0.6" fill="#6a6a6a"/>
<circle cx="444.0" cy="303.5" r="0.6" fill="#6a6a6a"/>
<circle cx="449.7" cy="305.0" r="0.6" fill="#6a6a6a"/>
<circle cx="449.5" cy="304.6" r="0.6" fill="#6a6a6a"/>
<circle cx="447.7" cy="304.4" r="0.6" fill="#6a6a6a"/>
<circle cx="441.9" cy="306.0" r="0.6" fill="#6a6a6a"/>
<circle cx="448.0" cy="305.1" r="0.6" fill="#6a6a6a"/>
<circle cx="441.9" cy="300.0" r="0.6" fill="#6a6a6a"/>
<circle cx="444.1" cy="302.9" r="0.6" fill="#6a6a6a"/>
<circle cx="447.5" cy="303.9" r="0.6" fill="#6a6a6a"/>
<circle cx="448.1" cy="302.5" r="0.6" fill="#6a6a6a"/>
<circle cx="447.5" cy="304.9" r="0.6" fill="#6a6a6a"/>
<circle cx="444.7" cy="308.0" r="0.6" fill="#6a6a6a"/>
<circle cx="448.2" cy="306.8" r="0.6" fill="#6a6a6a"/>
<circle cx="444.9" cy="302.3" r="0.6" fill="#6a6a6a"/>
<circle cx="445.6" cy="303.8" r="0.6" fill="#6a6a6a"/>
<circle cx="448.4" cy="304.6" r="0.6" fill="#6a6a6a"/>
<circle cx="445.3" cy="301.8" r="0.6" fill="#6a6a6a"/>
<circle cx="445.1" cy="306.8" r="0.6" fill="#6a6a6a"/>
<circle cx="444.3" cy="304.6" r="0.6" fill="#6a6a6a"/>
<circle cx="447.8" cy="300.6" r="0.6" fill="#6a6a6a"/>
<circle cx="446.7" cy="307.0" r="0.6" fill="#6a6a6a"/>
<circle cx="441.0" cy="303.3" r="0.6" fill="#6a6a6a"/>
<circle cx="446.3" cy="302.1" r="0.6" fill="#6a6a6a"/>
<circle cx="448.0" cy="303.9" r="0.6" fill="#6a6a6a"/>
<circle cx="442.5" cy="305.9" r="0.6" fill="#6a6a6a"/>
<circle cx="448.5" cy="306.2" r="0.6" fill="#6a6a6a"/>
<circle cx="450.6" cy="304.8" r="0.6" fill="#6a6a6a"/>
<circle cx="446.9" cy="301.0" r="0.6" fill="#6a6a6a"/>
<circle cx="448.3" cy="302.6" r="0.6" fill="#6a6a6a"/>
<circle cx="445.3" cy="301.1" r="0.6" fill="#6a6a6a"/>
<circle cx="443.9" cy="302.8" r="0.6" fill="#6a6a6a"/>
<circle cx="450.2" cy="299.3" r="0.6" fill="#6a6a6a"/>
<circle cx="442.5" cy="304.6" r="0.6" fill="#6a6a6a"/>
<circle cx="450.6" cy="305.3" r="0.6" fill="#6a6a6a"/>
<circle cx="441.3" cy="298.2" r="0.6" fill="#6a6a6a"/>
<circle cx="447.6" cy="302.3" r="0.6" fill="#6a6a6a"/>
<circle cx="443.5" cy="306.2" r="0.6" fill="#6a6a6a"/>
<circle cx="449.7" cy="304.4" r="0.6" fill="#6a6a6a"/>
<circle cx="447.3" cy="305.0" r="0.6" fill="#6a6a6a"/>
<circle cx="451.1" cy="305.4" r="0.6" fill="#6a6a6a"/>
<circle cx="448.1" cy="305.3" r="0.6" fill="#6a6a6a"/>
<circle cx="442.2" cy="306.9" r="0.6" fill="#6a6a6a"/>
<circle cx="449.3" cy="305.2" r="0.6" fill="#6a6a6a"/>
<circle cx="441.1" cy="302.5" r="0.6" fill="#6a6a6a"/>
<circle cx="449.0" cy="299.8" r="0.6" fill="#6a6a6a"/>
<circle cx="446.1" cy="306.3" r="0.6" fill="#6a6a6a"/>
<circle cx="442.9" cy="307.7" r="0.6" fill="#6a6a6a"/>
<circle cx="448.1" cy="303.7" r="0.6" fill="#6a6a6a"/>
<circle cx="447.5" cy="305.5" r="0.6" fill="#6a6a6a"/>
<circle cx="446.9" cy="306.6" r="0.6" fill="#6a6a6a"/>
<circle cx="444.7" cy="303.0" r="0.6" fill="#6a6a6a"/>
<circle cx="449.5" cy="304.1" r="0.6" fill="#6a6a6a"/>
<circle cx="444.1" cy="306.2" r="0.6" fill="#6a6a6a"/>
<circle cx="450.7" cy="303.0" r="0.6" fill="#6a6a6a"/>
<circle cx="442.7" cy="303.7" r="0.6" fill="#6a6a6a"/>
<circle cx="446.2" cy="303.3" r="0.6" fill="#6a6a6a"/>
<circle cx="450.5" cy="301.6" r="0.6" fill="#6a6a6a"/>
<circle cx="450.1" cy="301.1" r="0.6" fill="#6a6a6a"/>
<circle cx="444.4" cy="305.5" r="0.6" fill="#6a6a6a"/>
<circle cx="449.8" cy="306.0" r="0.6" fill="#6a6a6a"/>
<circle cx="447.6" cy="304.3" r="0.6" fill="#6a6a6a"/>
<circle cx="447.0" cy="305.3" r="0.6" fill="#6a6a6a"/>
<circle cx="446.1" cy="304.6" r="0.6" fill="#6a6a6a"/>
<circle cx="448.2" cy="304.0" r="0.6" fill="#6a6a6a"/>
<circle cx="448.7" cy="305.3" r="0.6" fill="#6a6a6a"/>
<circle cx="452.2" cy="304.7" r="0.6" fill="#6a6a6a"/>
<circle cx="445.4" cy="303.1" r="0.6" fill="#6a6a6a"/>
<circle cx="446.6" cy="306.1" r="0.6" fill="#6a6a6a"/>
<circle cx="445.7" cy="304.9" r="0.6" fill="#6a6a6a"/>
<circle cx="451.7" cy="298.1" r="0.6" fill="#6a6a6a"/>
<circle cx="443.5" cy="304.6" r="0.6" fill="#6a6a6a"/>
<circle cx="447.7" cy="304.5" r="0.6" fill="#6a6a6a"/>
<circle cx="445.4" cy="305.5" r="0.6" fill="#6a6a6a"/>
<circle cx="447.4" cy="302.8" r="0.6" fill="#6a6a6a"/>
<circle cx="453.4" cy="304.8" r="0.6" fill="#6a6a6a"/>
<circle cx="445.0" cy="303.8" r="0.6" fill="#6a6a6a"/>
<circle cx="446.0" cy="303.9" r="0.6" fill="#6a6a6a"/>
<circle cx="439.0" cy="302.9" r="0.6" fill="#6a6a6a"/>
<circle cx="449.4" cy="301.3" r="0.6" fill="#6a6a6a"/>
<circle cx="446.4" cy="306.2" r="0.6" fill="#6a6a6a"/>
<circle cx="449.0" cy="307.4" r="0.6" fill="#6a6a6a"/>
<circle cx="441.8" cy="303.2" r="0.6" fill="#6a6a6a"/>
<circle cx="445.6" cy="305.4" r="0.6" fill="#6a6a6a"/>
<circle cx="449.7" cy="297.8" r="0.6" fill="#6a6a6a"/>
<circle cx="449.6" cy="300.7" r="0.6" fill="#6a6a6a"/>
<circle cx="448.5" cy="300.6" r="0.6" fill="#6a6a6a"/>
<circle cx="447.1" cy="306.7" r="0.6" fill="#6a6a6a"/>
<circle cx="446.2" cy="304.4" r="0.6" fill="#6a6a6a"/>
<circle cx="448.8" cy="304.3" r="0.6" fill="#6a6a6a"/>
<circle cx="446.4" cy="307.5" r="0.6" fill="#6a6a6a"/>
<circle cx="449.5" cy="303.3" r="0.6" fill="#6a6a6a"/>
<circle cx="454.3" cy="301.4" r="0.6" fill="#6a6a6a"/>
<circle cx="449.2" cy="303.4" r="0.6" fill="#6a6a6a"/>
<circle cx="447.0" cy="305.6" r="0.6" fill="#6a6a6a"/>
<circle cx="447.2" cy="305.5" r="0.6" fill="#6a6a6a"/>
<circle cx="442.3" cy="300.5" r="0.6" fill="#6a6a6a"/>
<circle cx="448.3" cy="301.8" r="0.6" fill="#6a6a6a"/>
<circle cx="443.7" cy="300.6" r="0.6" fill="#6a6a6a"/>
<circle cx="450.1" cy="305.7" r="0.6" fill="#6a6a6a"/>
<circle cx="450.7" cy="301.8" r="0.6" fill="#6a6a6a"/>
<circle cx="446.6" cy="301.4" r="0.6" fill="#6a6a6a"/>
<circle cx="448.7" cy="307.7" r="0.6" fill="#6a6a6a"/>
<circle cx="444.1" cy="307.6" r="0.6" fill="#6a6a6a"/>
<circle cx="449.4" cy="303.6" r="0.6" fill="#6a6a6a"/>
<circle cx="441.1" cy="307.2" r="0.6" fill="#6a6a6a"/>
<circle cx="446.3" cy="302.6" r="0.6" fill="#6a6a6a"/>
<circle cx="447.7" cy="304.9" r="0.6" fill="#6a6a6a"/>
<circle cx="450.8" cy="301.7" r="0.6" fill="#6a6a6a"/>
<circle cx="449.8" cy="307.4" r="0.6" fill="#6a6a6a"/>
<circle cx="450.7" cy="303.6" r="0.6" fill="#6a6a6a"/>
<circle cx="444.5" cy="306.3" r="0.6" fill="#6a6a6a"/>
<circle cx="446.9" cy="304.3" r="0.6" fill="#6a6a6a"/>
<circle cx="450.6" cy="303.4" r="0.6" fill="#6a6a6a"/>
<circle cx="440.2" cy="303.1" r="0.6" fill="#6a6a6a"/>
<circle cx="441.4" cy="305.9" r="0.6" fill="#6a6a6a"/>
<circle cx="447.5" cy="302.6" r="0.6" fill="#6a6a6a"/>
<circle cx="446.6" cy="305.9" r="0.6" fill="#6a6a6a"/>
<circle cx="446.8" cy="307.1" r="0.6" fill="#6a6a6a"/>
<circle cx="446.4" cy="306.4" r="0.6" fill="#6a6a6a"/>
<circle cx="450.8" cy="307.7" r="0.6" fill="#6a6a6a"/>
<circle cx="444.7" cy="306.0" r="0.6" fill="#6a6a6a"/>
<circle cx="441.3" cy="301.5" r="0.6" fill="#6a6a6a"/>
<circle cx="441.1" cy="306.5" r="0.6" fill="#6a6a6a"/>
<circle cx="443.2" cy="304.0" r="0.6" fill="#6a6a6a"/>
<circle cx="446.1" cy="303.9" r="0.6" fill="#6a6a6a"/>
<circle cx="444.9" cy="304.5" r="0.6" fill="#6a6a6a"/>
<circle cx="451.6" cy="304.1" r="0.6" fill="#6a6a6a"/>
<circle cx="448.1" cy="306.3" r="0.6" fill="#6a6a6a"/>
<circle cx="446.0" cy="301.1" r="0.6" fill="#6a6a6a"/>
<circle cx="445.0" cy="306.5" r="0.6" fill="#6a6a6a"/>
<circle cx="442.0" cy="302.6" r="0.6" fill="#6a6a6a"/>
<circle cx="449.4" cy="305.8" r="0.6" fill="#6a6a6a"/>
<circle cx="446.6" cy="305.9" r="0.6" fill="#6a6a6a"/>
<circle cx="447.1" cy="301.3" r="0.6" fill="#6a6a6a"/>
<circle cx="442.2" cy="302.5" r="0.6" fill="#6a6a6a"/>
<circle cx="449.2" cy="302.7" r="0.6" fill="#6a6a6a"/>
<circle cx="444.1" cy="302.2" r="0.6" fill="#6a6a6a"/>
<circle cx="442.3" cy="303.7" r="0.6" fill="#6a6a6a"/>
<circle cx="443.3" cy="304.8" r="0.6" fill="#6a6a6a"/>
<circle cx="440.0" cy="304.8" r="0.6" fill="#6a6a6a"/>
<circle cx="444.8" cy="299.5" r="0.6" fill="#6a6a6a"/>
<circle cx="448.6" cy="303.4" r="0.6" fill="#6a6a6a"/>
<circle cx="440.4" cy="302.0" r="0.6" fill="#6a6a6a"/>
<circle cx="447.4" cy="302.9" r="0.6" fill="#6a6a6a"/>
<circle cx="448.8" cy="305.7" r="0.6" fill="#6a6a6a"/>
<circle cx="448.5" cy="304.8" r="0.6" fill="#6a6a6a"/>
<circle cx="450.3" cy="305.5" r="0.6" fill="#6a6a6a"/>
<circle cx="447.9" cy="299.2" r="0.6" fill="#6a6a6a"/>
<circle cx="449.1" cy="307.0" r="0.6" fill="#6a6a6a"/>
<circle cx="445.8" cy="302.9" r="0.6" fill="#6a6a6a"/>
<circle cx="452.0" cy="300.0" r="0.6" fill="#6a6a6a"/>
<circle cx="447.9" cy="309.6" r="0.6" fill="#6a6a6a"/>
<circle cx="444.0" cy="305.6" r="0.6" fill="#6a6a6a"/>
<circle cx="451.9" cy="303.7" r="0.6" fill="#6a6a6a"/>
<circle cx="448.2" cy="306.1" r="0.6" fill="#6a6a6a"/>
<circle cx="444.1" cy="303.8" r="0.6" fill="#6a6a6a"/>
<circle cx="447.4" cy="305.9" r="0.6" fill="#6a6a6a"/>
<circle cx="446.5" cy="303.6" r="0.6" fill="#6a6a6a"/>
<circle cx="443.8" cy="303.2" r="0.6" fill="#6a6a6a"/>
<circle cx="449.1" cy="304.2" r="0.6" fill="#6a6a6a"/>
<circle cx="444.2" cy="302.1" r="0.6" fill="#6a6a6a"/>
<circle cx="454.1" cy="306.6" r="0.6" fill="#6a6a6a"/>
<circle cx="448.4" cy="298.0" r="0.6" fill="#6a6a6a"/>
<circle cx="448.3" cy="305.1" r="0.6" fill="#6a6a6a"/>
<circle cx="451.3" cy="305.0" r="0.6" fill="#6a6a6a"/>
<circle cx="446.4" cy="305.2" r="0.6" fill="#6a6a6a"/>
<circle cx="441.2" cy="306.4" r="0.6" fill="#6a6a6a"/>
<circle cx="447.5" cy="302.4" r="0.6" fill="#6a6a6a"/>
<circle cx="450.3" cy="308.2" r="0.6" fill="#6a6a6a"/>
<circle cx="442.7" cy="302.5" r="0.6" fill="#6a6a6a"/>
<circle cx="447.4" cy="304.4" r="0.6" fill="#6a6a6a"/>
<circle cx="445.5" cy="301.8" r="0.6" fill="#6a6a6a"/>
<circle cx="452.5" cy="306.4" r="0.6" fill="#6a6a6a"/>
<circle cx="443.3" cy="300.9" r="0.6" fill="#6a6a6a"/>
<circle cx="451.4" cy="306.3" r="0.6" fill="#6a6a6a"/>
<circle cx="451.7" cy="305.9" r="0.6" fill="#6a6a6a"/>
<circle cx="444.2" cy="304.6" r="0.6" fill="#6a6a6a"/>
<circle cx="440.6" cy="302.3" r="0.6" fill="#6a6a6a"/>
<circle cx="446.4" cy="305.2" r="0.6" fill="#6a6a6a"/>
<circle cx="444.6" cy="303.7" r="0.6" fill="#6a6a6a"/>
<circle cx="447.9" cy="304.9" r="0.6" fill="#6a6a6a"/>
<circle cx="448.4" cy="304.5" r="0.6" fill="#6a6a6a"/>
<circle cx="445.7" cy="305.8" r="0.6" fill="#6a6a6a"/>
<circle cx="446.7" cy="302.1" r="0.6" fill="#6a6a6a"/>
<circle cx="444.8" cy="304.0" r="0.6" fill="#6a6a6a"/>
<circle cx="446.3" cy="304.4" r="0.6" fill="#6a6a6a"/>
<circle cx="446.6" cy="304.4" r="0.6" fill="#6a6a6a"/>
<circle cx="446.2" cy="301.1" r="0.6" fill="#6a6a6a"/>
<circle cx="447.8" cy="306.4" r="0.6" fill="#6a6a6a"/>
<circle cx="447.8" cy="303.6" r="0.6" fill="#6a6a6a"/>
<circle cx="447.9" cy="301.8" r="0.6" fill="#6a6a6a"/>
<circle cx="441.3" cy="304.1" r="0.6" fill="#6a6a6a"/>
<circle cx="444.0" cy="305.7" r="0.6" fill="#6a6a6a"/>
<circle cx="443.6" cy="298.0" r="0.6" fill="#6a6a6a"/>
<circle cx="443.7" cy="307.6" r="0.6" fill="#6a6a6a"/>
<circle cx="445.5" cy="300.9" r="0.6" fill="#6a6a6a"/>
<circle cx="444.5" cy="305.2" r="0.6" fill="#6a6a6a"/>
<circle cx="448.0" cy="304.4" r="0.6" fill="#6a6a6a"/>
<circle cx="453.2" cy="305.3" r="0.5" fill="#a0a0a0"/>
<circle cx="446.4" cy="304.9" r="0.5" fill="#a0a0a0"/>
<circle cx="453.9" cy="306.4" r="0.5" fill="#a0a0a0"/>
<circle cx="451.1" cy="298.2" r="0.5" fill="#a0a0a0"/>
<circle cx="445.8" cy="305.4" r="0.5" fill="#a0a0a0"/>
<circle cx="445.2" cy="306.8" r="0.5" fill="#a0a0a0"/>
<circle cx="449.2" cy="306.1" r="0.5" fill="#a0a0a0"/>
<circle cx="445.5" cy="312.7" r="0.5" fill="#a0a0a0"/>
<circle cx="452.1" cy="301.6" r="0.5" fill="#a0a0a0"/>
<circle cx="446.9" cy="312.9" r="0.5" fill="#a0a0a0"/>
<circle cx="445.0" cy="306.0" r="0.5" fill="#a0a0a0"/>
<circle cx="450.9" cy="302.5" r="0.5" fill="#a0a0a0"/>
<circle cx="441.2" cy="303.3" r="0.5" fill="#a0a0a0"/>
<circle cx="448.1" cy="307.0" r="0.5" fill="#a0a0a0"/>
<circle cx="450.0" cy="302.6" r="0.5" fill="#a0a0a0"/>
<circle cx="450.3" cy="304.7" r="0.5" fill="#a0a0a0"/>
<circle cx="447.4" cy="302.7" r="0.5" fill="#a0a0a0"/>
<circle cx="445.4" cy="305.2" r="0.5" fill="#a0a0a0"/>
<circle cx="441.8" cy="300.0" r="0.5" fill="#a0a0a0"/>
<circle cx="446.5" cy="296.6" r="0.5" fill="#a0a0a0"/>
<circle cx="444.5" cy="294.5" r="0.5" fill="#a0a0a0"/>
<circle cx="443.4" cy="304.8" r="0.5" fill="#a0a0a0"/>
<circle cx="449.0" cy="302.3" r="0.5" fill="#a0a0a0"/>
<circle cx="445.5" cy="296.8" r="0.5" fill="#a0a0a0"/>
<circle cx="454.7" cy="304.6" r="0.5" fill="#a0a0a0"/>
<circle cx="451.4" cy="299.0" r="0.5" fill="#a0a0a0"/>
<circle cx="445.7" cy="295.2" r="0.5" fill="#a0a0a0"/>
<circle cx="450.0" cy="306.2" r="0.5" fill="#a0a0a0"/>
<circle cx="438.0" cy="302.3" r="0.5" fill="#a0a0a0"/>
<circle cx="449.3" cy="295.5" r="0.5" fill="#a0a0a0"/>
<circle cx="438.3" cy="298.2" r="0.5" fill="#a0a0a0"/>
<circle cx="443.7" cy="296.9" r="0.5" fill="#a0a0a0"/>
<circle cx="446.6" cy="303.5" r="0.5" fill="#a0a0a0"/>
<circle cx="449.4" cy="305.3" r="0.5" fill="#a0a0a0"/>
<circle cx="453.3" cy="307.2" r="0.5" fill="#a0a0a0"/>
<circle cx="440.6" cy="300.5" r="0.5" fill="#a0a0a0"/>
<circle cx="441.7" cy="298.2" r="0.5" fill="#a0a0a0"/>
<circle cx="446.1" cy="302.5" r="0.5" fill="#a0a0a0"/>
<circle cx="448.7" cy="296.2" r="0.5" fill="#a0a0a0"/>
<circle cx="440.9" cy="302.4" r="0.5" fill="#a0a0a0"/>
<circle cx="445.6" cy="301.3" r="0.5" fill="#a0a0a0"/>
<circle cx="446.2" cy="299.5" r="0.5" fill="#a0a0a0"/>
<circle cx="449.7" cy="303.9" r="0.5" fill="#a0a0a0"/>
<circle cx="446.1" cy="299.8" r="0.5" fill="#a0a0a0"/>
<circle cx="445.7" cy="291.6" r="0.5" fill="#a0a0a0"/>
<circle cx="442.1" cy="302.6" r="0.5" fill="#a0a0a0"/>
<circle cx="439.7" cy="303.3" r="0.5" fill="#a0a0a0"/>
<circle cx="447.2" cy="297.0" r="0.5" fill="#a0a0a0"/>
<circle cx="445.4" cy="301.2" r="0.5" fill="#a0a0a0"/>
<circle cx="448.6" cy="304.9" r="0.5" fill="#a0a0a0"/>
<circle cx="446.3" cy="299.1" r="0.5" fill="#a0a0a0"/>
<circle cx="445.9" cy="302.2" r="0.5" fill="#a0a0a0"/>
<circle cx="449.8" cy="303.7" r="0.5" fill="#a0a0a0"/>
<circle cx="443.2" cy="297.1" r="0.5" fill="#a0a0a0"/>
<circle cx="444.8" cy="299.5" r="0.5" fill="#a0a0a0"/>
<circle cx="441.5" cy="302.0" r="0.5" fill="#a0a0a0"/>
<circle cx="444.3" cy="302.9" r="0.5" fill="#a0a0a0"/>
<circle cx="448.9" cy="300.8" r="0.5" fill="#a0a0a0"/>
<circle cx="457.0" cy="301.2" r="0.5" fill="#a0a0a0"/>
<circle cx="451.5" cy="303.0" r="0.5" fill="#a0a0a0"/>
<circle cx="451.5" cy="264.2" r="0.5" fill="#c8c8c8"/>
<circle cx="444.0" cy="290.5" r="0.5" fill="#c8c8c8"/>
<circle cx="449.4" cy="311.4" r="0.5" fill="#c8c8c8"/>
<circle cx="448.3" cy="300.8" r="0.5" fill="#c8c8c8"/>
<circle cx="450.1" cy="297.5" r="0.5" fill="#c8c8c8"/>
<circle cx="449.0" cy="286.4" r="0.5" fill="#c8c8c8"/>
<circle cx="449.0" cy="277.2" r="0.5" fill="#c8c8c8"/>
<circle cx="451.7" cy="277.8" r="0.5" fill="#c8c8c8"/>
<circle cx="448.0" cy="309.2" r="0.5" fill="#c8c8c8"/>
<circle cx="446.1" cy="288.2" r="0.5" fill="#c8c8c8"/>
<circle cx="451.7" cy="288.3" r="0.5" fill="#c8c8c8"/>
<circle cx="443.8" cy="290.6" r="0.5" fill="#c8c8c8"/>
<circle cx="449.3" cy="295.1" r="0.5" fill="#c8c8c8"/>
<circle cx="443.9" cy="305.5" r="0.5" fill="#c8c8c8"/>
<circle cx="453.7" cy="288.2" r="0.5" fill="#c8c8c8"/>
<circle cx="448.1" cy="283.7" r="0.5" fill="#c8c8c8"/>
<circle cx="452.7" cy="281.0" r="0.5" fill="#c8c8c8"/>
<circle cx="449.7" cy="283.2" r="0.5" fill="#c8c8c8"/>
<circle cx="444.2" cy="295.2" r="0.5" fill="#c8c8c8"/>
<circle cx="452.3" cy="287.9" r="0.5" fill="#c8c8c8"/>
<circle cx="444.3" cy="296.1" r="0.5" fill="#c8c8c8"/>
<circle cx="446.8" cy="291.1" r="0.5" fill="#c8c8c8"/>
<circle cx="453.1" cy="299.3" r="0.5" fill="#c8c8c8"/>
<circle cx="444.9" cy="310.8" r="0.5" fill="#c8c8c8"/>
<circle cx="462.0" cy="308.9" r="0.5" fill="#ccc"/>
<circle cx="458.8" cy="304.8" r="0.5" fill="#ccc"/>
<circle cx="453.3" cy="313.9" r="0.5" fill="#ccc"/>
<circle cx="468.8" cy="298.9" r="0.5" fill="#ccc"/>
<circle cx="454.5" cy="296.9" r="0.5" fill="#ccc"/>
<circle cx="467.9" cy="302.7" r="0.5" fill="#ccc"/>
<circle cx="461.7" cy="303.4" r="0.5" fill="#ccc"/>
<circle cx="461.4" cy="299.6" r="0.5" fill="#ccc"/>
<text x="438.10" y="258.50" font-size="5.6">2.44</text>
<text x="498.20" y="258.50" font-size="5.6" text-anchor="end">0.10</text>
<text x="437.50" y="314.40" font-size="5.6">96.36</text>
<text x="498.20" y="314.40" font-size="5.6" text-anchor="end">1.09</text>
<text x="437.10" y="319.60" font-size="3.2" text-anchor="middle" fill="#999">10</text>
<text x="452.90" y="319.60" font-size="3.2" text-anchor="middle" fill="#999">10</text>
<text x="467.60" y="319.60" font-size="3.2" text-anchor="middle" fill="#999">10</text>
<text x="483.70" y="319.60" font-size="3.2" text-anchor="middle" fill="#999">10</text>
<text x="432.80" y="269.20" font-size="3.2" text-anchor="middle" fill="#999">10</text>
<text x="432.80" y="285.70" font-size="3.2" text-anchor="middle" fill="#999">10</text>
<text x="432.80" y="300.00" font-size="3.2" text-anchor="middle" fill="#999">10</text>
<text x="432.80" y="315.00" font-size="3.2" text-anchor="middle" fill="#999">10</text>
<text class="s" x="0" y="0" font-size="9.6" text-anchor="middle" fill="#000" transform="translate(430.20,284.85) rotate(-90)">CD19</text>
<text class="s" x="425.30" y="334.60" font-size="9.2" text-anchor="middle">B220</text>
<line x1="389.10" y1="372.80" x2="389.10" y2="451.30" stroke="#777" stroke-width="1.3"/>
<line x1="388.50" y1="451.30" x2="481.50" y2="451.30" stroke="#222" stroke-width="1.2"/>
<line x1="386.80" y1="373.20" x2="389.10" y2="373.20" stroke="#222" stroke-width="1.0"/>
<line x1="386.80" y1="451.30" x2="389.10" y2="451.30" stroke="#222" stroke-width="1.0"/>
<line x1="389.10" y1="451.30" x2="389.10" y2="453.30" stroke="#222" stroke-width="1.0"/>
<line x1="419.60" y1="451.30" x2="419.60" y2="453.30" stroke="#222" stroke-width="1.0"/>
<line x1="450.10" y1="451.30" x2="450.10" y2="453.30" stroke="#222" stroke-width="1.0"/>
<line x1="480.70" y1="451.30" x2="480.70" y2="453.30" stroke="#222" stroke-width="1.0"/>
<text class="s" x="383.00" y="376.60" font-size="9.2" text-anchor="end">100</text>
<text class="s" x="383.00" y="454.60" font-size="9.2" text-anchor="end">10</text>
<text class="s" x="389.10" y="466.20" font-size="9.2" text-anchor="middle">0</text>
<text class="s" x="419.20" y="466.20" font-size="9.2" text-anchor="middle">500</text>
<text class="s" x="450.10" y="466.20" font-size="9.2" text-anchor="middle">1000</text>
<text class="s" x="480.50" y="466.20" font-size="9.2" text-anchor="middle">1500</text>
<text class="s" x="439.40" y="477.00" font-size="9.2" text-anchor="middle">Cell number plated/well</text>
<text class="s" x="0" y="0" font-size="9.2" text-anchor="middle" fill="#111" transform="translate(366.90,412.00) rotate(-90)">Percent negative wells</text>
<polyline points="392.0,373.2 397.5,377.9 414.6,382.9 465.5,388.8" fill="none" stroke="#111" stroke-width="1.2"/>
<polyline points="392.0,396.9 397.7,388.8 414.6,420.3 465.5,443.8" fill="none" stroke="#111" stroke-width="1.2"/>
<circle cx="392.0" cy="373.2" r="1.8" fill="#111"/>
<circle cx="397.5" cy="377.9" r="1.8" fill="#111"/>
<circle cx="414.6" cy="382.9" r="1.8" fill="#111"/>
<circle cx="465.5" cy="388.8" r="1.8" fill="#111"/>
<rect x="390.3" y="395.2" width="3.4" height="3.4" fill="#111"/>
<rect x="396.0" y="387.1" width="3.4" height="3.4" fill="#111"/>
<rect x="412.90000000000003" y="418.6" width="3.4" height="3.4" fill="#111"/>
<rect x="463.8" y="442.1" width="3.4" height="3.4" fill="#111"/>
<line x1="437.80" y1="401.40" x2="446.70" y2="401.40" stroke="#111" stroke-width="1.2"/>
<circle cx="442.1" cy="401.4" r="2.2" fill="#111"/>
<line x1="437.80" y1="413.70" x2="446.70" y2="413.70" stroke="#111" stroke-width="1.2"/>
<rect x="440.8" y="411.4" width="4.2" height="4.8" fill="#111"/>
<text class="s" x="448.4" y="404.4" font-size="9.9" font-style="italic" fill="#111">Hes5<tspan font-size="6.6" dy="-3.9">+/+</tspan></text>
<text class="s" x="448.4" y="416.3" font-size="9.9" font-style="italic" fill="#111">Hes5<tspan font-size="6.6" dy="-3.9">-/-</tspan></text>
</svg>
</body></html>
